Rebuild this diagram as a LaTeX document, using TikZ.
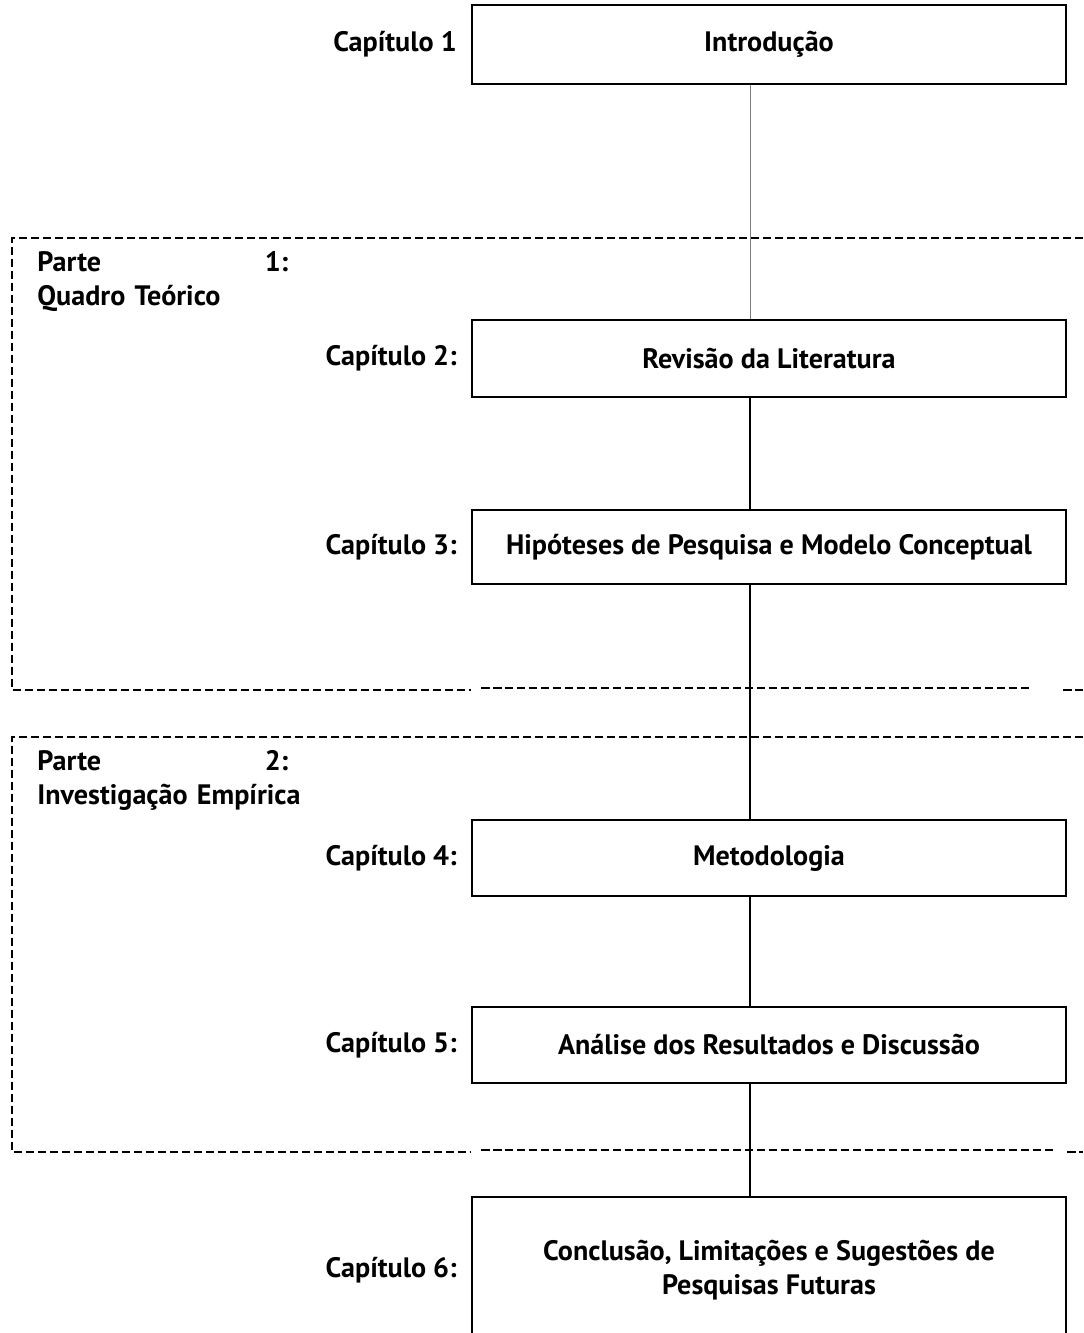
\documentclass[tikz,border=0pt]{standalone}
\usepackage{fontspec}
\setmainfont{PT Sans}
\usetikzlibrary{positioning}

\begin{document}
\begin{tikzpicture}[x=0.02cm, y=-0.02cm, font=\fontsize{16}{19.3}\selectfont\bfseries, align=center,
  chapbox/.style={draw, line width=1.1pt, minimum width=11.88cm, inner sep=0pt},
  chaplabel/.style={inner sep=0pt, left=0.28cm of #1},
  partline/.style={line width=1.1pt, dash pattern=on 0.17cm off 0.07cm},
  partlabel/.style={inner sep=0pt, text width=5.02cm, align=left, anchor=north west}]
  \useasboundingbox (0,0) rectangle (1083,1333);

  \node[chapbox, minimum height=1.58cm] (intro) at (769,44.5) {Introdução};
  \node[chaplabel=intro] (cap1) {Capítulo 1};

  \node[chapbox, minimum height=1.54cm] (rev) at (769,358.5) {Revisão da Literatura};
  \node[chaplabel=rev] (cap2) {Capítulo 2:};

  \node[chapbox, minimum height=1.48cm] (hip) at (769,547) {Hipóteses de Pesquisa e Modelo Conceptual};
  \node[chaplabel=hip] (cap3) {Capítulo 3:};

  \node[chapbox, minimum height=1.52cm] (met) at (769,858) {Metodologia};
  \node[chaplabel=met] (cap4) {Capítulo 4:};

  \node[chapbox, minimum height=1.52cm] (ana) at (769,1045) {Análise dos Resultados e Discussão};
  \node[chaplabel=ana] (cap5) {Capítulo 5:};

  \node[chapbox, minimum height=2.92cm] (conc) at (769,1270) {Conclusão, Limitações e Sugestões de\\Pesquisas Futuras};
  \node[chaplabel=conc] (cap6) {Capítulo 6:};

  % partes
  \draw[partline] (1083,238) -- (12,238) -- (12,690) -- (471,690);
  \draw[partline] (481,688) -- (1030,688);
  \draw[partline] (1063,690) -- (1083,690);
  \node[partlabel] (parte1) at (37,251) {Parte \hfill 1:\\\mbox{Quadro Teórico}};

  \draw[partline] (1083,737) -- (12,737) -- (12,1152) -- (470,1152);
  \draw[partline] (481,1150) -- (1055,1150);
  \draw[partline] (1067,1152) -- (1083,1152);
  \node[partlabel] (parte2) at (37,750) {Parte \hfill 2:\\\mbox{Investigação Empírica}};

  \coordinate (spine) at (750,0);
  \draw[gray, line width=0.5pt] (intro.south -| spine) -- (rev.north -| spine);
  \draw[line width=1.1pt] (rev.south -| spine) -- (hip.north -| spine);
  \draw[line width=1.1pt] (hip.south -| spine) -- (met.north -| spine);
  \draw[line width=1.1pt] (met.south -| spine) -- (ana.north -| spine);
  \draw[line width=1.1pt] (ana.south -| spine) -- (conc.north -| spine);
\end{tikzpicture}
\end{document}
